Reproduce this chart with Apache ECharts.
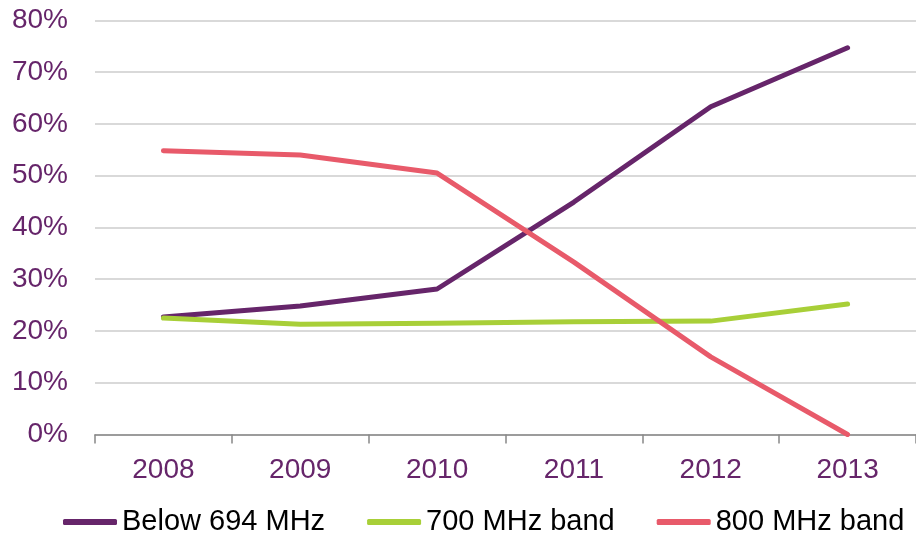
<!DOCTYPE html>
<html><head><meta charset="utf-8">
<script src="https://cdn.jsdelivr.net/npm/echarts@6/dist/echarts.min.js"></script>
<style>html,body{margin:0;padding:0;background:#fff}#c{width:916px;height:538px}</style>
</head><body><div id="c"></div>
<script>
const years = ['2008','2009','2010','2011','2012','2013'];
const below694 = [22.7, 24.8, 28.1, 44.9, 63.3, 74.7];
const band700 = [22.5, 21.3, 21.5, 21.8, 21.9, 25.2];
const band800 = [54.8, 54.0, 50.5, 33.3, 15.0, 0];
const yTicks = [0, 10, 20, 30, 40, 50, 60, 70, 80];

const purple = '#66256a', green = '#a8cf38', red = '#e85a6a';
const chart = echarts.init(document.getElementById('c'));
function s(name, data, color) {
  return { name, type: 'line', data, symbol: 'none', smooth: false,
    lineStyle: { color, width: 5, cap: 'round', join: 'round' }, itemStyle: { color } };
}
chart.setOption({
  animation: false,
  grid: { left: 95, right: -8, top: 20.3, bottom: 103.5, containLabel: false },
  legend: {
    top: 507, left: 63, padding: 0, itemWidth: 54, itemHeight: 6, itemGap: 42,
    icon: 'roundRect',
    textStyle: { color: '#000', fontSize: 29, lineHeight: 30, fontFamily: 'Liberation Sans, Arial' },
    data: ['Below 694 MHz', '700 MHz band', '800 MHz band']
  },
  xAxis: {
    type: 'category', data: years, boundaryGap: true,
    axisLine: { lineStyle: { color: '#888', width: 1.5 } },
    axisTick: { show: true, length: 9, lineStyle: { color: '#888', width: 1.5 } },
    axisLabel: { color: '#66256a', fontSize: 28, fontFamily: 'Liberation Sans, Arial', margin: 22 }
  },
  yAxis: {
    type: 'value', min: yTicks[0], max: yTicks[yTicks.length-1], interval: 10,
    axisLine: { show: false }, axisTick: { show: false },
    splitLine: { lineStyle: { color: '#cccccc', width: 1.5 } },
    axisLabel: { color: '#66256a', fontSize: 28, fontFamily: 'Liberation Sans, Arial', margin: 27, formatter: v => v + '%' }
  },
  series: [s('Below 694 MHz', below694, purple), s('700 MHz band', band700, green), s('800 MHz band', band800, red)]
});
</script></body></html>
